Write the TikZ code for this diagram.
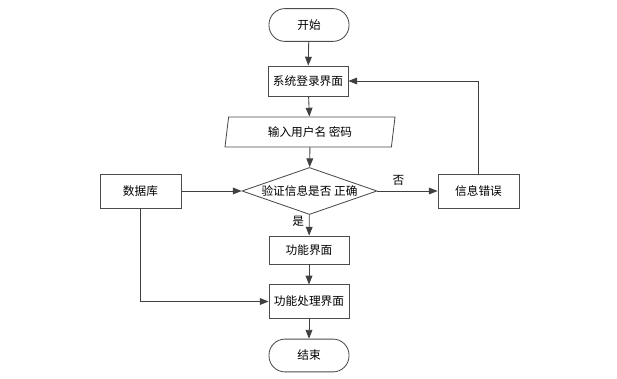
\documentclass[tikz,border=0pt]{standalone}
\usepackage{fontspec}
\setmainfont{Noto Sans CJK SC}
\usetikzlibrary{shapes.geometric,arrows.meta,shadows}

\tikzset{
    line/.style={draw=black!75, line width=0.6pt},
    arr/.style={line, -{Triangle[length=2.2mm,width=1.7mm]}},
    box/.style={rectangle, draw=black!70, line width=0.6pt, fill=white,
        drop shadow={shadow xshift=0.5pt, shadow yshift=-0.5pt, opacity=0.25},
        minimum width=2cm, inner sep=0pt},
    term/.style={rectangle, rounded corners=0.4cm, draw=black!70, line width=0.6pt,
        fill=white, minimum width=2cm, minimum height=0.82cm, inner sep=0pt},
    io/.style={trapezium, trapezium left angle=71.6, trapezium right angle=108.4,
        trapezium stretches body, draw=black!70, line width=0.6pt, fill=white,
        minimum width=4.25cm, minimum height=0.75cm, inner sep=0pt},
    test/.style={diamond, aspect=2.9, draw=black!70, line width=0.6pt, fill=white,
        minimum width=3.375cm, minimum height=1.175cm, inner sep=0pt},
}

\begin{document}
\begin{tikzpicture}[x=0.025cm, y=-0.025cm, font=\fontsize{8.3}{10}\selectfont]
    \useasboundingbox (0,0) rectangle (617,379);

    % Colonne principale
    \node[term] (start) at (309,25) {开始};
    \node[box, minimum height=0.75cm] (login) at (308,81) {系统登录界面};
    \node[io] (input) at (310,132) {输入用户名 密码};
    \node[test] (check) at (309.5,191) {验证信息是否 正确};
    \node[box, minimum height=0.7cm] (func) at (309,250) {功能界面};
    \node[box, minimum height=0.83cm] (proc) at (309,301.5) {功能处理界面};
    \node[term] (end) at (309,355.5) {结束};

    % Cotés
    \node[box, minimum width=2.025cm, minimum height=0.85cm] (db) at (140.5,191) {数据库};
    \node[box, minimum width=2.025cm, minimum height=0.85cm] (err) at (478.5,191) {信息错误};

    % Flèches verticales
    \draw[arr] (start) -- (login);
    \draw[arr] (login) -- (input);
    \draw[arr] (input) -- (check);
    \draw[arr] (check) -- node[pos=0.3, left] {是} (func);
    \draw[arr] (func) -- (proc);
    \draw[arr] (proc) -- (end);

    % Branches
    \draw[arr] (db) -- (check);
    \draw[arr] (check) -- node[pos=0.35, above] {否} (err);
    \draw[arr] (err.north) |- (login.east);
    \draw[arr] (db.south) |- (proc.west);
\end{tikzpicture}
\end{document}
